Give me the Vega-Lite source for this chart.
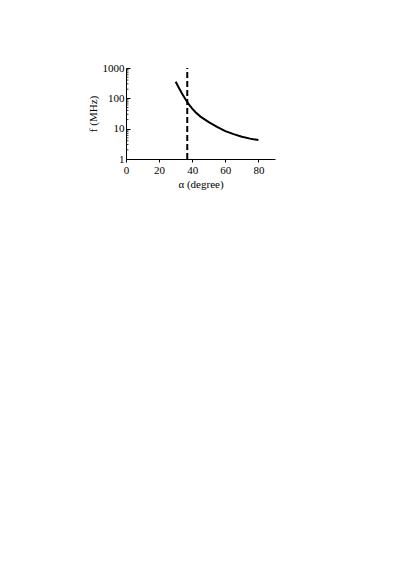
{
  "$schema": "https://vega.github.io/schema/vega-lite/v6.json",
  "autosize": {"type": "none"},
  "padding": {"left": 126, "top": 68, "right": 124, "bottom": 406},
  "width": 149,
  "height": 91,
  "background": "white",
  "config": {
    "view": {"stroke": null},
    "font": "Liberation Serif",
    "axis": {
      "grid": false, "labelOverlap": false, "labelFlush": false,
      "domainColor": "black", "tickColor": "black",
      "labelFont": "Liberation Serif", "labelFontSize": 11, "labelColor": "black",
      "titleFont": "Liberation Serif", "titleFontSize": 11, "titleFontWeight": "normal",
      "titleColor": "black"
    },
    "axisX": {"tickSize": 3, "labelPadding": 2, "titlePadding": 3},
    "axisY": {"tickSize": -4, "labelPadding": 6, "titlePadding": 4}
  },
  "datasets": {
    "curve": [
      {"a": 30, "f": 350}, {"a": 32, "f": 220}, {"a": 34, "f": 140}, {"a": 36, "f": 92},
      {"a": 38, "f": 63}, {"a": 40, "f": 46}, {"a": 42, "f": 35}, {"a": 45, "f": 25},
      {"a": 50, "f": 16.5}, {"a": 55, "f": 11.5}, {"a": 60, "f": 8.3}, {"a": 65, "f": 6.6},
      {"a": 70, "f": 5.4}, {"a": 75, "f": 4.7}, {"a": 80, "f": 4.2}
    ],
    "vline": [{"a": 37, "f": 1, "f2": 1000}],
    "minor": [
      {"f": 2}, {"f": 3}, {"f": 4}, {"f": 5}, {"f": 6}, {"f": 7}, {"f": 8}, {"f": 9},
      {"f": 20}, {"f": 30}, {"f": 40}, {"f": 50}, {"f": 60}, {"f": 70}, {"f": 80}, {"f": 90},
      {"f": 200}, {"f": 300}, {"f": 400}, {"f": 500}, {"f": 600}, {"f": 700}, {"f": 800}, {"f": 900}
    ]
  },
  "encoding": {
    "x": {
      "type": "quantitative",
      "scale": {"domain": [0, 90], "nice": false},
      "axis": {"values": [0, 20, 40, 60, 80], "title": "α (degree)"}
    },
    "y": {
      "type": "quantitative",
      "scale": {"type": "log", "domain": [1, 1000], "nice": false},
      "axis": {"values": [1, 10, 100, 1000], "format": "d", "title": "f (MHz)"}
    }
  },
  "layer": [
    {
      "data": {"name": "curve"},
      "mark": {"type": "line", "color": "black", "strokeWidth": 2},
      "encoding": {
        "x": {"field": "a"},
        "y": {"field": "f"}
      }
    },
    {
      "data": {"name": "minor"},
      "mark": {"type": "rule", "color": "black", "strokeWidth": 0.8},
      "encoding": {
        "y": {"field": "f"},
        "x": {"datum": 0},
        "x2": {"datum": 1.5}
      }
    },
    {
      "data": {"name": "vline"},
      "mark": {"type": "rule", "color": "black", "strokeWidth": 2, "strokeDash": [6, 3]},
      "encoding": {
        "x": {"field": "a"},
        "y": {"field": "f"},
        "y2": {"field": "f2"}
      }
    }
  ]
}
